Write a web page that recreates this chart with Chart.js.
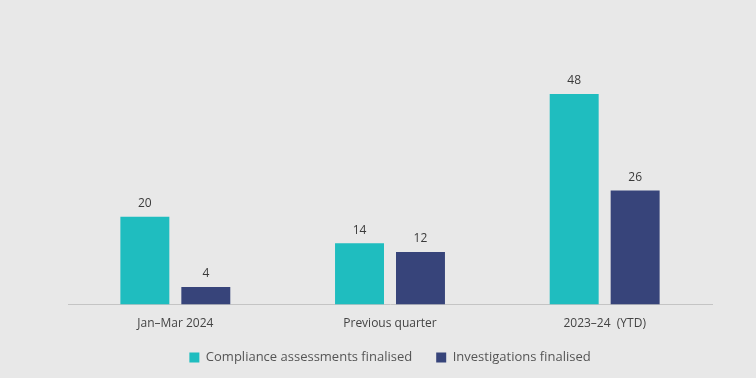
<!DOCTYPE html>
<html><head><meta charset="utf-8">
<script src="https://cdn.jsdelivr.net/npm/chart.js@4"></script>
<style>html,body{margin:0;padding:0;background:#e8e8e8;}#wrap{width:756px;height:378px;}</style>
</head><body><div id="wrap"><canvas id="c" width="756" height="378"></canvas></div>
<script>
const categories = ["Jan–Mar 2024", "Previous quarter", "2023–24  (YTD)"];
const seriesNames = ["Compliance assessments finalised", "Investigations finalised"];
const compliance = [20, 14, 48];
const investigations = [4, 12, 26];

const labelPlugin = {
  id: 'vals',
  afterLayout(chart) {
    if (chart.legend) { chart.legend.top -= 8; chart.legend.bottom -= 8; }
  },
  afterDatasetsDraw(chart) {
    const ctx = chart.ctx;
    ctx.save();
    ctx.font = '12px "Open Sans"';
    ctx.fillStyle = '#3a3a3a';
    ctx.textAlign = 'center';
    ctx.textBaseline = 'bottom';
    chart.data.datasets.forEach((ds, i) => {
      chart.getDatasetMeta(i).data.forEach((el, j) => {
        ctx.fillText(String(ds.data[j]), el.x, el.y - 7);
      });
    });
    ctx.restore();
  }
};

new Chart(document.getElementById('c'), {
  type: 'bar',
  data: {
    labels: categories,
    datasets: [
      { label: seriesNames[0], data: compliance, backgroundColor: '#1fbdbf' },
      { label: seriesNames[1], data: investigations, backgroundColor: '#37447a' }
    ]
  },
  options: {
    responsive: false,
    animation: false,
    devicePixelRatio: 1,
    layout: { padding: { left: 68, right: 44, top: 50, bottom: -4 } },
    datasets: { bar: { categoryPercentage: 0.568, barPercentage: 0.803 } },
    scales: {
      x: {
        grid: { display: false },
        border: { display: true, color: '#c4c4c4', dash: [2, 2] },
        ticks: { color: '#444', font: { family: '"Open Sans"', size: 12 }, padding: 4 }
      },
      y: { display: false, min: 0, max: 58 }
    },
    plugins: {
      legend: {
        position: 'bottom',
        labels: { color: '#555', font: { family: '"Open Sans"', size: 13 }, boxWidth: 10, boxHeight: 10, padding: 24 }
      },
      tooltip: { enabled: false }
    }
  },
  plugins: [labelPlugin]
});
</script></body></html>
